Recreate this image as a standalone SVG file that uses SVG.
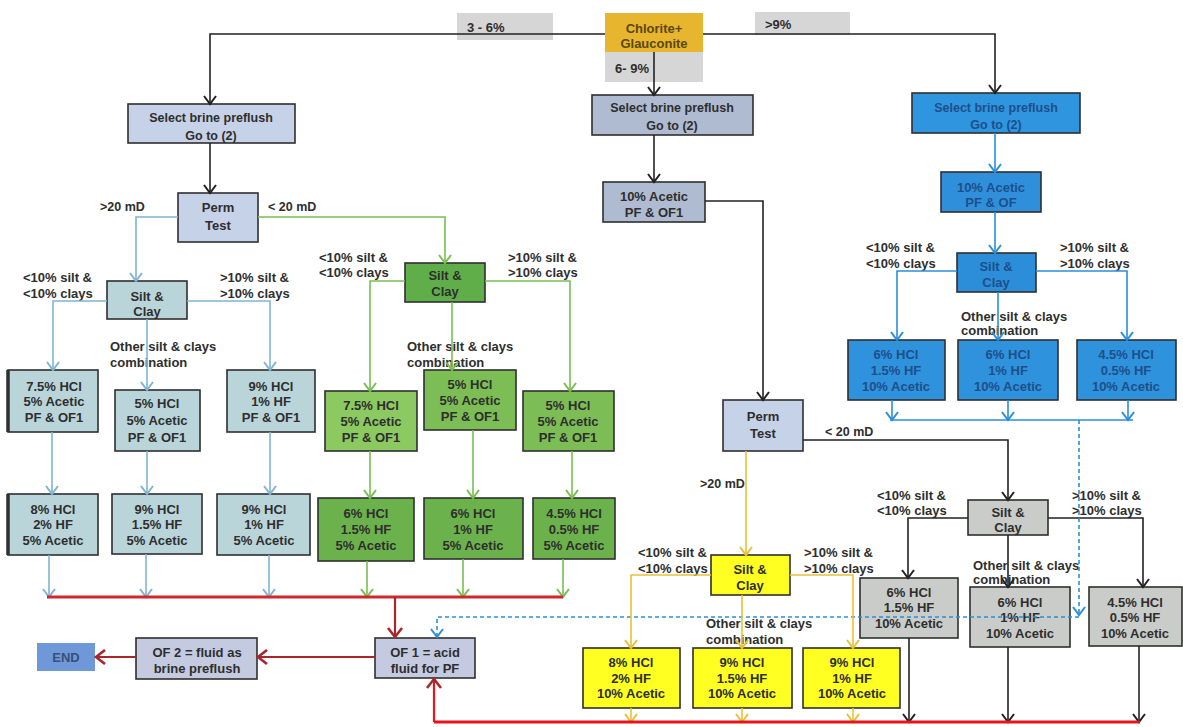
<svg xmlns="http://www.w3.org/2000/svg" width="1183" height="727" viewBox="0 0 1183 727">
  <defs>
    <style>
      text { font-family: "Liberation Sans", Arial, sans-serif; font-weight: bold; font-size: 13px; fill: #2e2e2e; }
      .c { text-anchor: middle; }
      .sm { font-size: 12.5px; }
      .box { stroke: #2f2f2f; stroke-width: 1.6; }
      .ln { fill: none; stroke-width: 1.6; }
      .k { stroke: #222; }
      .lb { stroke: #7fb5d0; }
      .gr { stroke: #78bf52; }
      .bl { stroke: #2a8fd8; }
      .ye { stroke: #e6c23a; }
      .rd { stroke: #d0282e; stroke-width: 3; }
      .drd { stroke: #a8262c; stroke-width: 2.2; }
      .brd { stroke: #e8141c; stroke-width: 3; }
      .dash { stroke: #2a8fd8; stroke-dasharray: 4 3; }
      .tb { fill: #1d4f8a; }
      .tg { fill: #5a4710; }
    </style>
    <marker id="a-k" markerWidth="12" markerHeight="14" refX="10" refY="7" orient="auto" markerUnits="userSpaceOnUse"><path d="M2,1 L10,7 L2,13" fill="none" stroke="#222" stroke-width="2"/></marker>
    <marker id="a-lb" markerWidth="12" markerHeight="14" refX="10" refY="7" orient="auto" markerUnits="userSpaceOnUse"><path d="M2,1 L10,7 L2,13" fill="none" stroke="#7fb5d0" stroke-width="2"/></marker>
    <marker id="a-gr" markerWidth="12" markerHeight="14" refX="10" refY="7" orient="auto" markerUnits="userSpaceOnUse"><path d="M2,1 L10,7 L2,13" fill="none" stroke="#78bf52" stroke-width="2"/></marker>
    <marker id="a-bl" markerWidth="12" markerHeight="14" refX="10" refY="7" orient="auto" markerUnits="userSpaceOnUse"><path d="M2,1 L10,7 L2,13" fill="none" stroke="#2a8fd8" stroke-width="2"/></marker>
    <marker id="a-ye" markerWidth="12" markerHeight="14" refX="10" refY="7" orient="auto" markerUnits="userSpaceOnUse"><path d="M2,1 L10,7 L2,13" fill="none" stroke="#e6c23a" stroke-width="2"/></marker>
    <marker id="a-rd" markerWidth="14" markerHeight="16" refX="11" refY="8" orient="auto" markerUnits="userSpaceOnUse"><path d="M2,1 L11,8 L2,15" fill="none" stroke="#a8262c" stroke-width="2.6"/></marker>
  </defs>

  <rect width="1183" height="727" fill="#ffffff"/>

  <!-- branch labels -->
  <g id="labels">
    <rect x="457" y="13" width="96" height="27" fill="#cfcfcf" opacity="0.85"/>
    <text x="467" y="32">3 - 6%</text>
    <rect x="755" y="12" width="95" height="23" fill="#cfcfcf" opacity="0.85"/>
    <text x="765" y="29">&gt;9%</text>
    <text x="100" y="211" class="sm">&gt;20 mD</text>
    <text x="268" y="211" class="sm">&lt; 20 mD</text>
    <text x="825" y="436" class="sm">&lt; 20 mD</text>
    <text x="700" y="488" class="sm">&gt;20 mD</text>
    <text x="23" y="282">&lt;10% silt &amp;</text>
    <text x="23" y="298">&lt;10% clays</text>
    <text x="220" y="282">&gt;10% silt &amp;</text>
    <text x="220" y="298">&gt;10% clays</text>
    <text x="110" y="351">Other silt &amp; clays</text>
    <text x="110" y="367">combination</text>
    <text x="319" y="262">&lt;10% silt &amp;</text>
    <text x="319" y="277">&lt;10% clays</text>
    <text x="508" y="262">&gt;10% silt &amp;</text>
    <text x="508" y="277">&gt;10% clays</text>
    <text x="407" y="351">Other silt &amp; clays</text>
    <text x="407" y="367">combination</text>
    <text x="866" y="252">&lt;10% silt &amp;</text>
    <text x="866" y="268">&lt;10% clays</text>
    <text x="1060" y="252">&gt;10% silt &amp;</text>
    <text x="1060" y="268">&gt;10% clays</text>
    <text x="961" y="321">Other silt &amp; clays</text>
    <text x="961" y="335">combination</text>
    <text x="877" y="500">&lt;10% silt &amp;</text>
    <text x="877" y="515">&lt;10% clays</text>
    <text x="1072" y="500">&gt;10% silt &amp;</text>
    <text x="1072" y="515">&gt;10% clays</text>
    <text x="973" y="570">Other silt &amp; clays</text>
    <text x="973" y="584">combination</text>
    <text x="638" y="557">&lt;10% silt &amp;</text>
    <text x="638" y="573">&lt;10% clays</text>
    <text x="804" y="557">&gt;10% silt &amp;</text>
    <text x="804" y="573">&gt;10% clays</text>
    <text x="706" y="628">Other silt &amp; clays</text>
    <text x="706" y="644">combination</text>
  </g>

  <!-- top -->
  <g id="chlorite">
    <rect x="605" y="13" width="98" height="39" fill="#e8b62e"/>
    <text class="c tg" x="654" y="33">Chlorite+</text>
    <text class="c tg" x="654" y="48">Glauconite</text>
  </g>
  <g id="range-6-9">
    <rect x="605" y="52" width="98" height="30" fill="#d6d6d6"/>
    <text x="615" y="73">6- 9%</text>
  </g>

  <!-- 3-6% column -->
  <g id="brine-left">
    <rect class="box" x="128" y="104" width="167" height="39" fill="#c6d2e8"/>
    <text class="c sm" x="211" y="122">Select brine preflush</text>
    <text class="c sm" x="211" y="140">Go to (2)</text>
  </g>
  <g id="perm-left">
    <rect class="box" x="178" y="193" width="80" height="49" fill="#c6d2e8"/>
    <text class="c" x="218" y="212">Perm</text>
    <text class="c" x="218" y="230">Test</text>
  </g>
  <g id="silt-left">
    <rect class="box" x="107" y="281" width="80" height="38" fill="#bad5da"/>
    <text class="c" x="147" y="301">Silt &amp;</text>
    <text class="c" x="147" y="316">Clay</text>
  </g>
  <g id="l1a">
    <rect class="box" x="8" y="370" width="90" height="62" fill="#bad5da"/>
    <line x1="8" y1="370" x2="8" y2="432" stroke="#2f2f2f" stroke-width="3.5"/>
    <text class="c" x="54" y="391">7.5% HCl</text>
    <text class="c" x="54" y="406">5% Acetic</text>
    <text class="c" x="54" y="422">PF &amp; OF1</text>
  </g>
  <g id="l1b">
    <rect class="box" x="115" y="390" width="85" height="61" fill="#bad5da"/>
    <text class="c" x="157" y="408">5% HCl</text>
    <text class="c" x="157" y="425">5% Acetic</text>
    <text class="c" x="157" y="442">PF &amp; OF1</text>
  </g>
  <g id="l1c">
    <rect class="box" x="227" y="370" width="88" height="62" fill="#bad5da"/>
    <text class="c" x="271" y="391">9% HCl</text>
    <text class="c" x="271" y="406">1% HF</text>
    <text class="c" x="271" y="422">PF &amp; OF1</text>
  </g>
  <g id="l2a">
    <rect class="box" x="8" y="494" width="90" height="61" fill="#bad5da"/>
    <line x1="8" y1="494" x2="8" y2="555" stroke="#2f2f2f" stroke-width="3.5"/>
    <text class="c" x="53" y="514">8% HCl</text>
    <text class="c" x="53" y="529">2% HF</text>
    <text class="c" x="53" y="545">5% Acetic</text>
  </g>
  <g id="l2b">
    <rect class="box" x="112" y="494" width="90" height="60" fill="#bad5da"/>
    <text class="c" x="157" y="514">9% HCl</text>
    <text class="c" x="157" y="529">1.5% HF</text>
    <text class="c" x="157" y="545">5% Acetic</text>
  </g>
  <g id="l2c">
    <rect class="box" x="217" y="494" width="93" height="61" fill="#bad5da"/>
    <text class="c" x="264" y="514">9% HCl</text>
    <text class="c" x="264" y="529">1% HF</text>
    <text class="c" x="264" y="545">5% Acetic</text>
  </g>

  <g id="silt-green">
    <rect class="box" x="405" y="263" width="80" height="39" fill="#5fae4a"/>
    <text class="c" x="445" y="280">Silt &amp;</text>
    <text class="c" x="445" y="296">Clay</text>
  </g>
  <g id="g1a">
    <rect class="box" x="325" y="391" width="92" height="60" fill="#8cc960"/>
    <text class="c" x="371" y="410">7.5% HCl</text>
    <text class="c" x="371" y="426">5% Acetic</text>
    <text class="c" x="371" y="442">PF &amp; OF1</text>
  </g>
  <g id="g1b">
    <rect class="box" x="424" y="370" width="92" height="60" fill="#7dbd55"/>
    <text class="c" x="470" y="389">5% HCl</text>
    <text class="c" x="470" y="405">5% Acetic</text>
    <text class="c" x="470" y="421">PF &amp; OF1</text>
  </g>
  <g id="g1c">
    <rect class="box" x="523" y="391" width="91" height="60" fill="#7dbd55"/>
    <text class="c" x="568" y="410">5% HCl</text>
    <text class="c" x="568" y="426">5% Acetic</text>
    <text class="c" x="568" y="442">PF &amp; OF1</text>
  </g>
  <g id="g2a">
    <rect class="box" x="318" y="498" width="96" height="63" fill="#6cb24c"/>
    <text class="c" x="366" y="518">6% HCl</text>
    <text class="c" x="366" y="534">1.5% HF</text>
    <text class="c" x="366" y="550">5% Acetic</text>
  </g>
  <g id="g2b">
    <rect class="box" x="424" y="498" width="99" height="61" fill="#6cb24c"/>
    <text class="c" x="473" y="518">6% HCl</text>
    <text class="c" x="473" y="534">1% HF</text>
    <text class="c" x="473" y="550">5% Acetic</text>
  </g>
  <g id="g2c">
    <rect class="box" x="533" y="498" width="82" height="61" fill="#6cb24c"/>
    <text class="c" x="574" y="518">4.5% HCl</text>
    <text class="c" x="574" y="534">0.5% HF</text>
    <text class="c" x="574" y="550">5% Acetic</text>
  </g>

  <!-- 6-9% column -->
  <g id="brine-mid">
    <rect class="box" x="592" y="95" width="161" height="40" fill="#afbbd0"/>
    <text class="c sm" x="672" y="112">Select brine preflush</text>
    <text class="c sm" x="672" y="130">Go to (2)</text>
  </g>
  <g id="acetic-mid">
    <rect class="box" x="603" y="182" width="102" height="40" fill="#afbbd0"/>
    <text class="c" x="654" y="201">10% Acetic</text>
    <text class="c" x="654" y="217">PF &amp; OF1</text>
  </g>
  <g id="perm-mid">
    <rect class="box" x="723" y="400" width="80" height="51" fill="#c6d2e8"/>
    <text class="c" x="763" y="421">Perm</text>
    <text class="c" x="763" y="438">Test</text>
  </g>
  <g id="silt-yellow">
    <rect class="box" x="711" y="555" width="79" height="40" fill="#ffff22"/>
    <text class="c" x="750" y="574">Silt &amp;</text>
    <text class="c" x="750" y="590">Clay</text>
  </g>
  <g id="y1">
    <rect class="box" x="583" y="648" width="97" height="60" fill="#ffff22"/>
    <text class="c" x="631" y="667">8% HCl</text>
    <text class="c" x="631" y="683">2% HF</text>
    <text class="c" x="631" y="698">10% Acetic</text>
  </g>
  <g id="y2">
    <rect class="box" x="693" y="648" width="99" height="60" fill="#ffff22"/>
    <text class="c" x="742" y="667">9% HCl</text>
    <text class="c" x="742" y="683">1.5% HF</text>
    <text class="c" x="742" y="698">10% Acetic</text>
  </g>
  <g id="y3">
    <rect class="box" x="803" y="648" width="97" height="60" fill="#ffff22"/>
    <text class="c" x="852" y="667">9% HCl</text>
    <text class="c" x="852" y="683">1% HF</text>
    <text class="c" x="852" y="698">10% Acetic</text>
  </g>
  <g id="silt-gray">
    <rect class="box" x="968" y="500" width="80" height="35" fill="#c9ccc9"/>
    <text class="c" x="1008" y="517">Silt &amp;</text>
    <text class="c" x="1008" y="532">Clay</text>
  </g>
  <g id="k1">
    <rect class="box" x="860" y="578" width="98" height="60" fill="#c9ccc9"/>
    <text class="c" x="909" y="597">6% HCl</text>
    <text class="c" x="909" y="612">1.5% HF</text>
    <text class="c" x="909" y="628">10% Acetic</text>
  </g>
  <g id="k2">
    <rect class="box" x="970" y="587" width="100" height="60" fill="#c9ccc9"/>
    <text class="c" x="1020" y="607">6% HCl</text>
    <text class="c" x="1020" y="622">1% HF</text>
    <text class="c" x="1020" y="638">10% Acetic</text>
  </g>
  <g id="k3">
    <rect class="box" x="1089" y="587" width="93" height="59" fill="#c9ccc9"/>
    <text class="c" x="1135" y="607">4.5% HCl</text>
    <text class="c" x="1135" y="622">0.5% HF</text>
    <text class="c" x="1135" y="638">10% Acetic</text>
  </g>

  <!-- >9% column -->
  <g id="brine-right">
    <rect class="box" x="912" y="93" width="168" height="40" fill="#2f95de"/>
    <text class="c sm tb" x="996" y="112">Select brine preflush</text>
    <text class="c sm tb" x="996" y="129">Go to (2)</text>
  </g>
  <g id="acetic-right">
    <rect class="box" x="941" y="172" width="100" height="40" fill="#2f8fdb"/>
    <text class="c tb" x="991" y="192">10% Acetic</text>
    <text class="c tb" x="991" y="207">PF &amp; OF</text>
  </g>
  <g id="silt-blue">
    <rect class="box" x="957" y="253" width="79" height="39" fill="#2c8ed8"/>
    <text class="c tb" x="996" y="271">Silt &amp;</text>
    <text class="c tb" x="996" y="287">Clay</text>
  </g>
  <g id="b1">
    <rect class="box" x="848" y="340" width="97" height="60" fill="#2f92dc"/>
    <text class="c tb" x="896" y="359">6% HCl</text>
    <text class="c tb" x="896" y="375">1.5% HF</text>
    <text class="c tb" x="896" y="391">10% Acetic</text>
  </g>
  <g id="b2">
    <rect class="box" x="958" y="340" width="100" height="60" fill="#2f92dc"/>
    <text class="c tb" x="1008" y="359">6% HCl</text>
    <text class="c tb" x="1008" y="375">1% HF</text>
    <text class="c tb" x="1008" y="391">10% Acetic</text>
  </g>
  <g id="b3">
    <rect class="box" x="1077" y="340" width="99" height="60" fill="#2f92dc"/>
    <text class="c tb" x="1126" y="359">4.5% HCl</text>
    <text class="c tb" x="1126" y="375">0.5% HF</text>
    <text class="c tb" x="1126" y="391">10% Acetic</text>
  </g>

  <!-- overflush -->
  <g id="of1">
    <rect class="box" x="375" y="638" width="100" height="40" fill="#c4cae0"/>
    <text class="c" x="425" y="657">OF 1 = acid</text>
    <text class="c" x="425" y="673">fluid for PF</text>
  </g>
  <g id="of2">
    <rect class="box" x="136" y="638" width="121" height="41" fill="#c4cae0"/>
    <text class="c" x="197" y="657">OF 2 = fluid as</text>
    <text class="c" x="197" y="673">brine preflush</text>
  </g>
  <g id="end">
    <rect x="37" y="643" width="58" height="28" fill="#6e98d8"/>
    <text class="c" x="66" y="662" style="fill:#3a4f7a">END</text>
  </g>

  <!-- connectors, drawn over the boxes -->
  <g id="connectors">
    <!-- top split -->
    <path class="ln k" d="M605,34 H210 V104" marker-end="url(#a-k)"/>
    <path class="ln k" d="M703,34 H995 V93" marker-end="url(#a-k)"/>
    <path class="ln k" d="M654,52 V95" marker-end="url(#a-k)"/>
    <path class="ln k" d="M210,143 V193" marker-end="url(#a-k)"/>
    <path class="ln k" d="M654,135 V182" marker-end="url(#a-k)"/>
    <path class="ln k" d="M705,201 H763 V400" marker-end="url(#a-k)"/>
    <path class="ln k" d="M803,440 H1008 V500" marker-end="url(#a-k)"/>
    <path class="ln k" d="M968,518 H908 V578" marker-end="url(#a-k)"/>
    <path class="ln k" d="M1048,518 H1143 V587" marker-end="url(#a-k)"/>
    <path class="ln k" d="M1008,535 V587" marker-end="url(#a-k)"/>
    <path class="ln k" d="M909,638 V722" marker-end="url(#a-k)"/>
    <path class="ln k" d="M1008,647 V722" marker-end="url(#a-k)"/>
    <path class="ln k" d="M1139,646 V722" marker-end="url(#a-k)"/>

    <!-- left (>20 mD) branch -->
    <path class="ln lb" d="M178,217 H136 V281" marker-end="url(#a-lb)"/>
    <path class="ln lb" d="M107,301 H53 V370" marker-end="url(#a-lb)"/>
    <path class="ln lb" d="M187,301 H270 V370" marker-end="url(#a-lb)"/>
    <path class="ln lb" d="M147,319 V390" marker-end="url(#a-lb)"/>
    <path class="ln lb" d="M52,432 V494" marker-end="url(#a-lb)"/>
    <path class="ln lb" d="M147,451 V494" marker-end="url(#a-lb)"/>
    <path class="ln lb" d="M270,432 V494" marker-end="url(#a-lb)"/>
    <path class="ln lb" d="M49,555 V597" marker-end="url(#a-lb)"/>
    <path class="ln lb" d="M146,554 V597" marker-end="url(#a-lb)"/>
    <path class="ln lb" d="M269,555 V597" marker-end="url(#a-lb)"/>

    <!-- green (< 20 mD) branch -->
    <path class="ln gr" d="M258,217 H445 V263" marker-end="url(#a-gr)"/>
    <path class="ln gr" d="M405,281 H370 V391" marker-end="url(#a-gr)"/>
    <path class="ln gr" d="M485,281 H570 V391" marker-end="url(#a-gr)"/>
    <path class="ln gr" d="M452,302 V370" marker-end="url(#a-gr)"/>
    <path class="ln gr" d="M370,451 V498" marker-end="url(#a-gr)"/>
    <path class="ln gr" d="M473,430 V498" marker-end="url(#a-gr)"/>
    <path class="ln gr" d="M572,451 V498" marker-end="url(#a-gr)"/>
    <path class="ln gr" d="M367,561 V597" marker-end="url(#a-gr)"/>
    <path class="ln gr" d="M463,559 V597" marker-end="url(#a-gr)"/>
    <path class="ln gr" d="M563,559 V597" marker-end="url(#a-gr)"/>

    <!-- blue (>9%) branch -->
    <path class="ln bl" d="M995,133 V172" marker-end="url(#a-bl)"/>
    <path class="ln bl" d="M995,212 V253" marker-end="url(#a-bl)"/>
    <path class="ln bl" d="M957,271 H897 V340" marker-end="url(#a-bl)"/>
    <path class="ln bl" d="M1036,271 H1127 V340" marker-end="url(#a-bl)"/>
    <path class="ln bl" d="M998,292 V340" marker-end="url(#a-bl)"/>
    <path class="ln bl" d="M892,400 V420" marker-end="url(#a-bl)"/>
    <path class="ln bl" d="M1008,400 V420" marker-end="url(#a-bl)"/>
    <path class="ln bl" d="M1128,400 V420" marker-end="url(#a-bl)"/>
    <path class="ln bl" d="M890,420 H1133"/>
    <path class="ln dash" d="M1079,420 V615" marker-end="url(#a-bl)"/>
    <path class="ln dash" d="M1079,617 H437 V637" marker-end="url(#a-bl)"/>

    <!-- yellow (>20 mD) branch -->
    <path class="ln ye" d="M746,451 V555" marker-end="url(#a-ye)"/>
    <path class="ln ye" d="M711,575 H631 V648" marker-end="url(#a-ye)"/>
    <path class="ln ye" d="M790,575 H853 V648" marker-end="url(#a-ye)"/>
    <path class="ln ye" d="M742,595 V648" marker-end="url(#a-ye)"/>
    <path class="ln ye" d="M631,708 V722" marker-end="url(#a-ye)"/>
    <path class="ln ye" d="M742,708 V722" marker-end="url(#a-ye)"/>
    <path class="ln ye" d="M853,708 V722" marker-end="url(#a-ye)"/>

    <!-- overflush collection -->
    <path class="ln rd" d="M47,597 H563"/>
    <path class="ln drd" d="M395,597 V637" marker-end="url(#a-rd)"/>
    <path class="ln drd" d="M375,657 H258" marker-end="url(#a-rd)"/>
    <path class="ln drd" d="M136,657 H96" marker-end="url(#a-rd)"/>
    <path class="ln brd" d="M434,722 H1140"/>
    <path class="ln drd" style="stroke:#e8141c" d="M434,722 V679" marker-end="url(#a-rd)"/>
  </g>
</svg>
